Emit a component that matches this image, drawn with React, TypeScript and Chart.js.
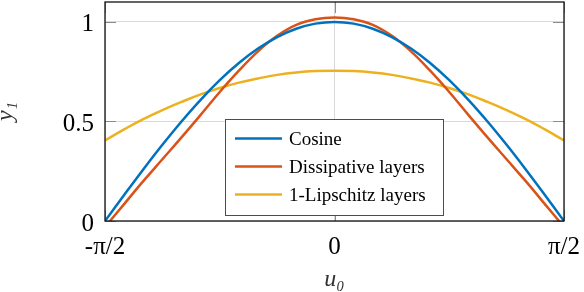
import React, { useEffect, useRef } from "react";
import { Chart, registerables } from "chart.js";

Chart.register(...registerables);

// ---- data ----
const U = [
  -1.5708, -1.4399, -1.309, -1.1781, -1.0472, -0.9163, -0.7854, -0.6545, -0.5236, -0.3927, -0.2618, -0.1309, 0,
  0.1309, 0.2618, 0.3927, 0.5236, 0.6545, 0.7854, 0.9163, 1.0472, 1.1781, 1.309, 1.4399, 1.5708,
];
const COSINE = [
  0, 0.1305, 0.2588, 0.3827, 0.5, 0.6088, 0.7071, 0.7934, 0.866, 0.9239, 0.9659, 0.9914, 1,
  0.9914, 0.9659, 0.9239, 0.866, 0.7934, 0.7071, 0.6088, 0.5, 0.3827, 0.2588, 0.1305, 0,
];
const DISSIPATIVE = [
  -0.03, 0.085, 0.2, 0.31, 0.42, 0.533, 0.648, 0.755, 0.852, 0.93, 0.985, 1.013, 1.022,
  1.013, 0.985, 0.93, 0.852, 0.755, 0.648, 0.533, 0.42, 0.31, 0.2, 0.085, -0.03,
];
const LIPSCHITZ = [
  0.405, 0.46, 0.512, 0.557, 0.598, 0.636, 0.668, 0.695, 0.716, 0.734, 0.746, 0.753, 0.755,
  0.753, 0.746, 0.734, 0.716, 0.695, 0.668, 0.636, 0.598, 0.557, 0.512, 0.46, 0.405,
];
const SERIES_LABELS = ["Cosine", "Dissipative layers", "1-Lipschitz layers"];
const SERIES_COLORS = ["#0072BD", "#D95319", "#EDB120"];
const X_TICK_VALUES = [-1.5708, 0, 1.5708];
const X_TICK_LABELS = ["-π/2", "0", "π/2"];
const Y_TICK_VALUES = [0, 0.5, 1];
const Y_TICK_LABELS = ["0", "0.5", "1"];
const Y_MAX = 1.1;
const X_TITLE = "u₀";
const Y_TITLE = "y₁";

const SERIF = "'Liberation Serif', 'DejaVu Serif', serif";

const toPoints = (ys: number[]) => U.map((u, i) => ({ x: u, y: ys[i] }));

const framePlugin = {
  id: "matlabFrame",
  beforeDatasetsDraw(chart: any) {
    const { ctx, chartArea: a, scales } = chart;
    ctx.save();
    ctx.strokeStyle = "#8c8c8c";
    ctx.lineWidth = 1;
    const len = 11;
    for (const v of Y_TICK_VALUES) {
      const y = Math.round(scales.y.getPixelForValue(v)) + 0.5;
      ctx.beginPath();
      ctx.moveTo(a.left, y);
      ctx.lineTo(a.left + len, y);
      ctx.moveTo(a.right - len, y);
      ctx.lineTo(a.right, y);
      ctx.stroke();
    }
    for (const v of X_TICK_VALUES) {
      const x = Math.round(scales.x.getPixelForValue(v)) + 0.5;
      ctx.beginPath();
      ctx.moveTo(x, a.bottom);
      ctx.lineTo(x, a.bottom - len);
      ctx.moveTo(x, a.top);
      ctx.lineTo(x, a.top + len);
      ctx.stroke();
    }
    ctx.restore();
  },
  afterDatasetsDraw(chart: any, _args: any, opts: any) {
    const { ctx, chartArea: a } = chart;
    ctx.save();
    // axes box
    ctx.strokeStyle = "#111";
    ctx.lineWidth = 1.3;
    ctx.strokeRect(a.left, a.top, a.right - a.left, a.bottom - a.top);

    // legend box
    const lg = opts.legend;
    ctx.fillStyle = "#fff";
    ctx.fillRect(lg.left, lg.top, lg.width, lg.height);
    ctx.strokeStyle = "#4d4d4d";
    ctx.lineWidth = 1;
    ctx.strokeRect(lg.left + 0.5, lg.top + 0.5, lg.width, lg.height);
    chart.data.datasets.forEach((ds: any, i: number) => {
      const y = lg.firstRowY + i * lg.rowGap;
      ctx.strokeStyle = ds.borderColor;
      ctx.lineWidth = 2.5;
      ctx.beginPath();
      ctx.moveTo(lg.lineX0, y);
      ctx.lineTo(lg.lineX1, y);
      ctx.stroke();
      ctx.fillStyle = "#000";
      ctx.font = `${lg.fontSize}px ${SERIF}`;
      ctx.textBaseline = "alphabetic";
      ctx.textAlign = "left";
      ctx.fillText(ds.label, lg.textX, y + lg.baselineOffset);
    });
    ctx.restore();
  },
};

export default function App() {
  const canvasRef = useRef<HTMLCanvasElement | null>(null);

  useEffect(() => {
    document.body.style.margin = "0";
    const canvas = canvasRef.current;
    if (!canvas) return;
    const chart = new Chart(canvas, {
      type: "line",
      data: {
        datasets: [COSINE, DISSIPATIVE, LIPSCHITZ].map((ys, i) => ({
          label: SERIES_LABELS[i],
          data: toPoints(ys),
          borderColor: SERIES_COLORS[i],
          backgroundColor: SERIES_COLORS[i],
          borderWidth: 2.5,
          pointRadius: 0,
          tension: 0.4,
          capBezierPoints: false,
          fill: false,
        })),
      },
      options: {
        animation: false,
        responsive: true,
        maintainAspectRatio: false,
        layout: { padding: { top: 2, right: 20, bottom: 0, left: 0 } },
        elements: { line: { capBezierPoints: false } },
        plugins: {
          legend: { display: false },
          tooltip: { enabled: false },
          matlabFrame: {
            legend: {
              left: 225,
              top: 119,
              width: 218,
              height: 96,
              firstRowY: 138.5,
              rowGap: 28,
              lineX0: 235,
              lineX1: 282,
              textX: 289,
              fontSize: 19,
              baselineOffset: 6,
            },
          },
        } as any,
        scales: {
          x: {
            type: "linear",
            min: X_TICK_VALUES[0],
            max: X_TICK_VALUES[X_TICK_VALUES.length - 1],
            afterBuildTicks: (scale: any) => {
              scale.ticks = X_TICK_VALUES.map((v) => ({ value: v }));
            },
            afterFit: (scale: any) => {
              scale.height = 71;
              scale.paddingLeft = 0;
              scale.paddingRight = 0;
            },
            ticks: {
              autoSkip: false,
              maxRotation: 0,
              padding: 11,
              color: "#000",
              font: { family: SERIF, size: 25 },
              callback: (v: any) => {
                const i = X_TICK_VALUES.findIndex((t) => Math.abs(t - Number(v)) < 1e-3);
                return i >= 0 ? X_TICK_LABELS[i] : "";
              },
            },
            grid: { color: "#d9d9d9", lineWidth: 1, drawTicks: false },
            border: { display: false },
            title: {
              display: true,
              text: X_TITLE,
              color: "#333",
              font: { family: SERIF, size: 24, style: "italic" },
              padding: { top: 0, bottom: -2 },
            },
          },
          y: {
            type: "linear",
            min: 0,
            max: Y_MAX,
            afterBuildTicks: (scale: any) => {
              scale.ticks = Y_TICK_VALUES.map((v) => ({ value: v }));
            },
            afterFit: (scale: any) => {
              scale.width = 105;
              scale.paddingTop = 0;
              scale.paddingBottom = 0;
            },
            ticks: {
              autoSkip: false,
              padding: 11,
              labelOffset: 3,
              color: "#000",
              font: { family: SERIF, size: 25 },
              callback: (v: any) => {
                const i = Y_TICK_VALUES.findIndex((t) => Math.abs(t - Number(v)) < 1e-6);
                return i >= 0 ? Y_TICK_LABELS[i] : "";
              },
            },
            grid: { color: "#d9d9d9", lineWidth: 1, drawTicks: false },
            border: { display: false },
            title: {
              display: true,
              text: Y_TITLE,
              color: "#333",
              font: { family: SERIF, size: 24, style: "italic" },
              padding: { top: -9, bottom: 0 },
            },
          },
        },
      },
      plugins: [framePlugin],
    });
    return () => chart.destroy();
  }, []);

  return (
    <div style={{ position: "relative", width: 584, height: 292 }}>
      <canvas ref={canvasRef} />
    </div>
  );
}
